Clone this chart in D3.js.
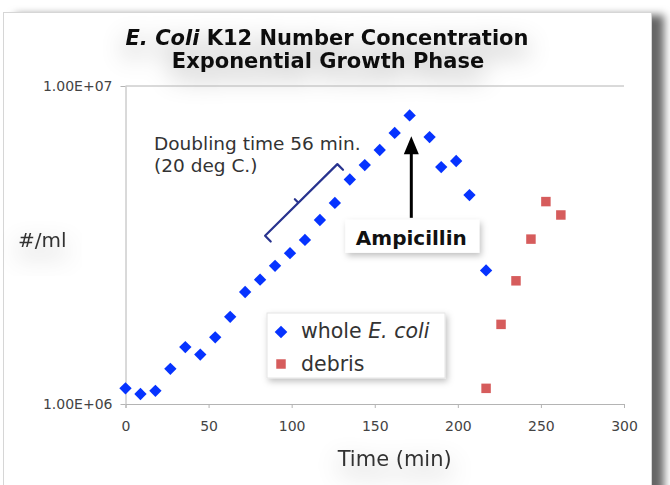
<!DOCTYPE html>
<html>
<head>
<meta charset="utf-8">
<script src="https://cdn.jsdelivr.net/npm/d3@7"></script>
<style>
  body { margin: 0; background: #fff; }
  svg { display: block; font-family: "DejaVu Sans", Verdana, sans-serif; }
</style>
</head>
<body>
<div id="chart"></div>
<script>
// whole E. coli (time in min, number per ml)
const wholeTime = [0, 9, 18, 27, 36, 45, 54, 63, 72, 81, 90, 99, 108, 117, 126, 135, 144, 153, 162, 171, 183, 190, 199, 207, 217];
const wholeConc = [1.12e6, 1.075e6, 1.10e6, 1.29e6, 1.51e6, 1.43e6, 1.62e6, 1.88e6, 2.25e6, 2.46e6, 2.72e6, 2.98e6,
                   3.28e6, 3.79e6, 4.29e6, 5.08e6, 5.64e6, 6.29e6, 7.12e6, 8.08e6, 6.91e6, 5.56e6, 5.81e6, 4.54e6, 2.63e6];

// debris
const debrisTime = [217, 226, 235, 244, 253, 262];
const debrisConc = [1.12e6, 1.78e6, 2.44e6, 3.30e6, 4.33e6, 3.93e6];

const xTicks = [0, 50, 100, 150, 200, 250, 300];
const yTicks = [1e6, 1e7];

// annotations (data coordinates)
const bracketFrom = [84, 3.38e6];
const bracketTo = [127.5, 5.68e6];
const arrowTime = 172;
const arrowFrom = 3.85e6;
const arrowTo = 6.95e6;

const width = 670, height = 485;
const margin = {top: 86, right: 46, bottom: 81, left: 125.5};
const innerWidth = width - margin.left - margin.right;
const innerHeight = height - margin.top - margin.bottom;

const colorWhole = "#0633ff";
const colorDebris = "#d65c5c";
const colorBracket = "#28338f";
const colorText = "#333";
const colorAxis = "#b4b4b4";

const svg = d3.select("#chart")
    .append("svg")
    .attr("width", width)
    .attr("height", height);

const defs = svg.append("defs");

const panelShadow = defs.append("filter").attr("id", "panelShadow")
    .attr("x", "-10%").attr("y", "-10%").attr("width", "130%").attr("height", "130%");
panelShadow.append("feDropShadow")
    .attr("dx", 12).attr("dy", 3).attr("stdDeviation", 4)
    .attr("flood-color", "#000").attr("flood-opacity", 0.6);

const boxShadow = defs.append("filter").attr("id", "boxShadow")
    .attr("x", "-20%").attr("y", "-30%").attr("width", "140%").attr("height", "170%");
boxShadow.append("feDropShadow")
    .attr("dx", 2).attr("dy", 3).attr("stdDeviation", 3)
    .attr("flood-color", "#000").attr("flood-opacity", 0.25);

const glow = defs.append("filter").attr("id", "glow")
    .attr("x", "-30%").attr("y", "-60%").attr("width", "160%").attr("height", "260%");
glow.append("feDropShadow")
    .attr("dx", 0).attr("dy", 10).attr("stdDeviation", 12)
    .attr("flood-color", "#000").attr("flood-opacity", 0.38);

// Panel
svg.append("rect")
    .attr("x", 3.5)
    .attr("y", 12.5)
    .attr("width", 648)
    .attr("height", 520)
    .attr("fill", "#fff")
    .attr("stroke", "#d6d6d6")
    .attr("filter", "url(#panelShadow)");

// Title
const title = svg.append("text")
    .attr("text-anchor", "middle")
    .style("font-size", "21px")
    .style("font-weight", "bold")
    .attr("fill", "#111")
    .attr("filter", "url(#glow)");
const t1 = title.append("tspan").attr("x", 327).attr("y", 45);
t1.append("tspan").style("font-style", "italic").text("E. Coli");
t1.append("tspan").text(" K12 Number Concentration");
title.append("tspan").attr("x", 328).attr("y", 68).text("Exponential Growth Phase");

const chartGroup = svg.append("g")
    .attr("transform", `translate(${margin.left},${margin.top})`);

// Scales
const x = d3.scaleLinear().domain([0, 300]).range([0, innerWidth]);
const y = d3.scaleLog().domain([1e6, 1e7]).range([innerHeight, 0]);

const fmtSci = d => {
    const e = Math.floor(Math.log10(d));
    const m = d / Math.pow(10, e);
    return m.toFixed(2) + "E+" + String(e).padStart(2, "0");
};

// Grid line at top
chartGroup.append("line")
    .attr("x1", 0).attr("x2", innerWidth)
    .attr("y1", y(1e7)).attr("y2", y(1e7))
    .attr("stroke", colorAxis);

// X-axis
const xAxis = chartGroup.append("g")
    .attr("transform", `translate(0,${innerHeight})`)
    .call(d3.axisBottom(x).tickValues(xTicks).tickSize(4).tickPadding(13).tickSizeOuter(4));
xAxis.selectAll("path, line").attr("stroke", colorAxis);
xAxis.selectAll("text")
    .style("font-size", "14px")
    .style("font-family", "'DejaVu Sans', Verdana, sans-serif")
    .attr("fill", "#444");

// Y-axis
const yAxis = chartGroup.append("g")
    .call(d3.axisLeft(y).tickValues(yTicks).tickFormat(fmtSci).tickSize(5).tickPadding(8).tickSizeOuter(0));
yAxis.selectAll("path, line").attr("stroke", colorAxis);
yAxis.selectAll("text")
    .style("font-size", "14px")
    .style("font-family", "'DejaVu Sans', Verdana, sans-serif")
    .attr("fill", "#444");

// Axis labels
svg.append("text")
    .attr("x", 18)
    .attr("y", 247)
    .style("font-size", "20px")
    .attr("fill", colorText)
    .attr("filter", "url(#glow)")
    .text("#/ml");

svg.append("text")
    .attr("x", margin.left + innerWidth * 0.54)
    .attr("y", 466)
    .attr("text-anchor", "middle")
    .style("font-size", "21px")
    .attr("fill", colorText)
    .attr("filter", "url(#glow)")
    .text("Time (min)");

// Whole E. coli diamonds
const whole = wholeTime.map((t, i) => ({t, v: wholeConc[i]}));
chartGroup.selectAll("path.whole")
    .data(whole)
    .join("path")
    .attr("class", "whole")
    .attr("d", d3.symbol(d3.symbolSquare, 76))
    .attr("transform", d => `translate(${x(d.t)},${y(d.v)}) rotate(45)`)
    .attr("fill", colorWhole);

// Debris squares
const debris = debrisTime.map((t, i) => ({t, v: debrisConc[i]}));
chartGroup.selectAll("path.debris")
    .data(debris)
    .join("path")
    .attr("class", "debris")
    .attr("d", d3.symbol(d3.symbolSquare, 90))
    .attr("transform", d => `translate(${x(d.t)},${y(d.v)})`)
    .attr("fill", colorDebris);

// Doubling time bracket
const p1 = [x(bracketFrom[0]), y(bracketFrom[1])];
const p2 = [x(bracketTo[0]), y(bracketTo[1])];
const len = Math.hypot(p2[0] - p1[0], p2[1] - p1[1]);
const dir = [(p2[0] - p1[0]) / len, (p2[1] - p1[1]) / len];
const nrm = [-dir[1], dir[0]];
const mid = [(p1[0] + p2[0]) / 2 - dir[0] * 4, (p1[1] + p2[1]) / 2 - dir[1] * 4];
const cap = 8, spike = 5;
const bracket = d3.path();
bracket.moveTo(p1[0] + nrm[0] * cap, p1[1] + nrm[1] * cap);
bracket.lineTo(p1[0], p1[1]);
bracket.lineTo(p2[0], p2[1]);
bracket.lineTo(p2[0] + nrm[0] * cap, p2[1] + nrm[1] * cap);
bracket.moveTo(mid[0], mid[1]);
bracket.lineTo(mid[0] - nrm[0] * spike, mid[1] - nrm[1] * spike);
chartGroup.append("path")
    .attr("d", bracket.toString())
    .attr("fill", "none")
    .attr("stroke", colorBracket)
    .attr("stroke-width", 2.2)
    .attr("stroke-linejoin", "round")
    .attr("stroke-linecap", "round");

const note = svg.append("text")
    .style("font-size", "18.5px")
    .attr("fill", colorText);
note.append("tspan").attr("x", 154).attr("y", 150).text("Doubling time 56 min.");
note.append("tspan").attr("x", 154).attr("y", 172).text("(20 deg C.)");

// Ampicillin arrow
const ax = x(arrowTime);
const tipY = y(arrowTo);
chartGroup.append("line")
    .attr("x1", ax).attr("x2", ax)
    .attr("y1", y(arrowFrom)).attr("y2", tipY + 12)
    .attr("stroke", "#000")
    .attr("stroke-width", 3);
chartGroup.append("path")
    .attr("d", `M${ax},${tipY} L${ax - 7.5},${tipY + 18} L${ax + 7.5},${tipY + 18} Z`)
    .attr("fill", "#000");

const ampBox = chartGroup.append("g")
    .attr("transform", `translate(${ax},${y(arrowFrom)})`);
ampBox.append("rect")
    .attr("x", -66).attr("y", 2)
    .attr("width", 134).attr("height", 33)
    .attr("fill", "#fff")
    .attr("filter", "url(#boxShadow)");
ampBox.append("text")
    .attr("x", 0).attr("y", 27)
    .attr("text-anchor", "middle")
    .style("font-size", "20px")
    .style("font-weight", "bold")
    .attr("fill", "#111")
    .text("Ampicillin");

// Legend
const legend = svg.append("g")
    .attr("transform", "translate(267,313)");
legend.append("rect")
    .attr("width", 178).attr("height", 65)
    .attr("fill", "#fff")
    .attr("stroke", "#e4e4e4")
    .attr("filter", "url(#boxShadow)");
legend.append("path")
    .attr("d", d3.symbol(d3.symbolSquare, 80))
    .attr("transform", "translate(14,19) rotate(45)")
    .attr("fill", colorWhole);
const lt1 = legend.append("text")
    .attr("x", 34).attr("y", 25)
    .style("font-size", "20.5px")
    .attr("fill", colorText);
lt1.append("tspan").text("whole ");
lt1.append("tspan").style("font-style", "italic").text("E. coli");
legend.append("path")
    .attr("d", d3.symbol(d3.symbolSquare, 90))
    .attr("transform", "translate(14,51)")
    .attr("fill", colorDebris);
legend.append("text")
    .attr("x", 34).attr("y", 58)
    .style("font-size", "20.5px")
    .attr("fill", colorText)
    .text("debris");
</script>
</body>
</html>
